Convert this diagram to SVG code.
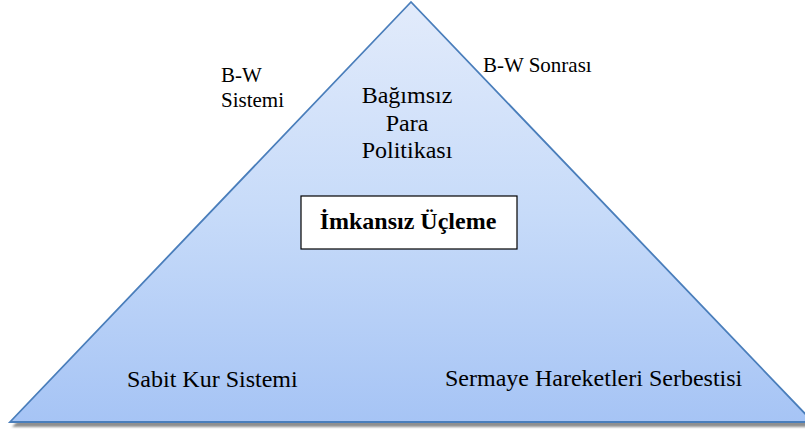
<svg xmlns="http://www.w3.org/2000/svg" width="805" height="430" viewBox="0 0 805 430">
<defs>
<linearGradient id="tri" x1="0" y1="0" x2="0" y2="1">
<stop offset="0" stop-color="#e2ebfb"/>
<stop offset="0.5" stop-color="#c7dbf9"/>
<stop offset="1" stop-color="#a6c4f5"/>
</linearGradient>
<filter id="blur" x="-5%" y="-5%" width="110%" height="110%"><feGaussianBlur stdDeviation="0.8"/></filter>
</defs>
<style>
.t{font-family:"Liberation Serif","Times New Roman",serif;fill:#000}
.lbl{font-size:24px}
.sm{font-size:21px}
.ttl{font-size:24px;font-weight:bold}
</style>
<rect width="805" height="430" fill="#fff"/>
<g id="pyramid">
<polygon points="411,6 12,427 815,427" fill="#8f8f8f" filter="url(#blur)"/>
<polygon points="411,2 10,422 813,422" fill="url(#tri)" stroke="#4a7ebb" stroke-width="1.8" stroke-linejoin="miter"/>
</g>
<g id="bw-sistemi">
<text class="t sm" x="221" y="82">B-W</text>
<text class="t sm" x="221" y="107">Sistemi</text>
</g>
<g id="bw-sonrasi">
<text class="t sm" x="483" y="72">B-W Sonrası</text>
</g>
<g id="para-politikasi">
<text class="t lbl" x="407" y="103" text-anchor="middle">Bağımsız</text>
<text class="t lbl" x="407" y="131" text-anchor="middle">Para</text>
<text class="t lbl" x="407" y="158" text-anchor="middle">Politikası</text>
</g>
<g id="imkansiz">
<rect x="301" y="196" width="216" height="53" fill="#fff" stroke="#000" stroke-width="1.2"/>
<text class="t ttl" x="408" y="229" text-anchor="middle">İmkansız Üçleme</text>
</g>
<g id="sabit-kur">
<text class="t lbl" x="127" y="387">Sabit Kur Sistemi</text>
</g>
<g id="sermaye">
<text class="t lbl" x="445" y="386">Sermaye Hareketleri Serbestisi</text>
</g>
<g id="connectors"/>
</svg>
